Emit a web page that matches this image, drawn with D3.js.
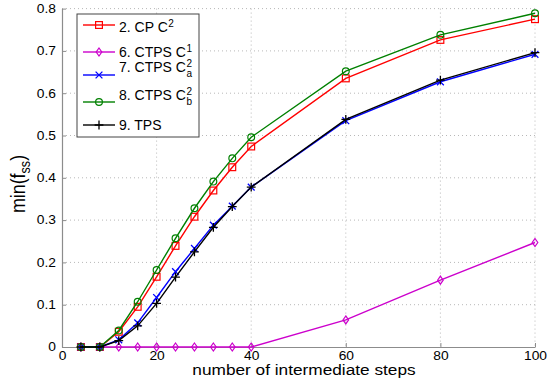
<!DOCTYPE html>
<html>
<head>
<meta charset="utf-8">
<script src="https://cdn.jsdelivr.net/npm/d3@7/dist/d3.min.js"></script>
<style>
  html, body { margin: 0; padding: 0; background: #fff; }
  svg { display: block; font-family: "Liberation Sans", Arial, Helvetica, sans-serif; }
</style>
</head>
<body>
<svg id="chart" width="548" height="386"></svg>
<script>
// number of intermediate steps
const steps = [4, 8, 12, 16, 20, 24, 28, 32, 36, 40, 60, 80, 100];

// min(f_ss) per method
const cpC2    = [0, 0, 0.036, 0.095, 0.166, 0.239, 0.308, 0.370, 0.425, 0.474, 0.635, 0.726, 0.775];
const ctpsC1  = [0, 0, 0, 0, 0, 0, 0, 0, 0, 0, 0.064, 0.158, 0.247];
const ctpsC2a = [0, 0, 0.017, 0.057, 0.117, 0.178, 0.233, 0.288, 0.333, 0.378, 0.535, 0.627, 0.692];
const ctpsC2b = [0, 0, 0.039, 0.107, 0.182, 0.257, 0.328, 0.391, 0.446, 0.496, 0.652, 0.738, 0.789];
const tps     = [0, 0, 0.015, 0.050, 0.103, 0.165, 0.225, 0.283, 0.332, 0.378, 0.538, 0.631, 0.696];

const xTicks = [0, 20, 40, 60, 80, 100];
const yTicks = [0, 0.1, 0.2, 0.3, 0.4, 0.5, 0.6, 0.7, 0.8];
const yTickLabels = ["0", "0.1", "0.2", "0.3", "0.4", "0.5", "0.6", "0.7", "0.8"];

const series = [
  { name: "2. CP C", sup: "2", sub: null, values: cpC2,    color: "#ff0000", marker: "square" },
  { name: "6. CTPS C", sup: "1", sub: null, values: ctpsC1,  color: "#cc00cc", marker: "diamond" },
  { name: "7. CTPS C", sup: "2", sub: "a", values: ctpsC2a, color: "#0000ff", marker: "x" },
  { name: "8. CTPS C", sup: "2", sub: "b", values: ctpsC2b, color: "#008000", marker: "circle" },
  { name: "9. TPS", sup: null, sub: null, values: tps,     color: "#000000", marker: "plus" }
];

const svg = d3.select("#chart");
const plotLeft = 62, plotRight = 535, plotTop = 8.6, plotBottom = 347;

const x = d3.scaleLinear().domain([0, 100]).range([plotLeft, plotRight]);
const y = d3.scaleLinear().domain([0, 0.8]).range([plotBottom, plotTop]);

const tickStretch = 1.15;
const axisColor = "#8c8c8c";

// dotted grid
const grid = svg.append("g");
grid.selectAll("line.gx").data(xTicks.filter(d => d > 0)).join("line")
  .attr("x1", d => x(d)).attr("x2", d => x(d))
  .attr("y1", y(0.8)).attr("y2", y(0))
  .attr("stroke", "#b8b8b8").attr("stroke-width", 1).attr("stroke-dasharray", "1,3");
grid.selectAll("line.gy").data(yTicks.filter(d => d > 0)).join("line")
  .attr("y1", d => y(d)).attr("y2", d => y(d))
  .attr("x1", x(0)).attr("x2", x(100))
  .attr("stroke", "#b8b8b8").attr("stroke-width", 1).attr("stroke-dasharray", "1,3");

// axes (ticks point inward)
const xAxis = d3.axisBottom(x).tickValues(xTicks).tickSizeInner(-4).tickSizeOuter(0).tickPadding(4)
  .tickFormat(d3.format("d"));
const gx = svg.append("g").attr("transform", `translate(0,${plotBottom})`).call(xAxis);
const yAxis = d3.axisLeft(y).tickValues(yTicks).tickSizeInner(-4).tickSizeOuter(0).tickPadding(6)
  .tickFormat((d, i) => yTickLabels[i]);
const gy = svg.append("g").attr("transform", `translate(${plotLeft},0)`).call(yAxis);

[gx, gy].forEach(g => {
  g.select(".domain").attr("stroke", axisColor).attr("stroke-width", 1.2);
  g.selectAll(".tick line").attr("stroke", axisColor);
  g.selectAll(".tick text").attr("fill", "#000").attr("font-size", 12)
    .attr("font-family", "Liberation Sans, Arial, sans-serif");
});
gx.selectAll(".tick text").attr("transform", `scale(${tickStretch},1)`);
gy.selectAll(".tick text").attr("transform", `scale(${tickStretch},1)`).attr("x", -6 / tickStretch);

// x axis label
svg.append("text")
  .attr("transform", `translate(304,375) scale(1.15,1)`)
  .attr("text-anchor", "middle").attr("font-size", 15)
  .text("number of intermediate steps");

// y axis label: min(f_ss)
const yl = svg.append("text")
  .attr("transform", "translate(25,184) rotate(-90) scale(1.05,1.15)")
  .attr("text-anchor", "middle").attr("font-size", 17);
yl.append("tspan").text("min(f");
yl.append("tspan").attr("font-size", 12).attr("dy", 4).text("ss");
yl.append("tspan").attr("dy", -4).text(")");

// marker drawing
function drawMarker(g, type, color) {
  const s = 3.4;
  if (type === "square") {
    g.append("rect").attr("x", -s).attr("y", -s).attr("width", 2 * s).attr("height", 2 * s)
      .attr("fill", "none").attr("stroke", color).attr("stroke-width", 1.2);
  } else if (type === "diamond") {
    g.append("path").attr("d", `M0,${-s - 0.6}L${s - 0.6},0L0,${s + 0.6}L${-s + 0.6},0Z`)
      .attr("fill", "none").attr("stroke", color).attr("stroke-width", 1.2);
  } else if (type === "circle") {
    g.append("circle").attr("r", s).attr("fill", "none").attr("stroke", color).attr("stroke-width", 1.2);
  } else if (type === "x") {
    g.append("path").attr("d", `M${-s},${-s}L${s},${s}M${-s},${s}L${s},${-s}`)
      .attr("stroke", color).attr("stroke-width", 1.3);
  } else if (type === "plus") {
    const p = s + 1;
    g.append("path").attr("d", `M${-p},0L${p},0M0,${-p}L0,${p}`)
      .attr("stroke", color).attr("stroke-width", 1.3);
  }
}

// series lines and markers
const line = d3.line().x((d, i) => x(steps[i])).y(d => y(d));
series.forEach(s => {
  const g = svg.append("g");
  g.append("path").datum(s.values).attr("d", line)
    .attr("fill", "none").attr("stroke", s.color).attr("stroke-width", 1.4);
  s.values.forEach((v, i) => {
    drawMarker(g.append("g").attr("transform", `translate(${x(steps[i])},${y(v)})`), s.marker, s.color);
  });
});

// legend
const legendRows = [25, 52, 75, 102, 125];
const legendBase = [32, 57, 72, 100, 130];
const lg = svg.append("g");
lg.append("rect").attr("x", 77).attr("y", 14).attr("width", 122).attr("height", 123)
  .attr("fill", "#fff").attr("stroke", "#444").attr("stroke-width", 1);
series.forEach((s, i) => {
  const ly = legendRows[i];
  lg.append("line").attr("x1", 83).attr("x2", 115).attr("y1", ly).attr("y2", ly)
    .attr("stroke", s.color).attr("stroke-width", 1.4);
  drawMarker(lg.append("g").attr("transform", `translate(99,${ly})`), s.marker, s.color);
  const t = lg.append("text").attr("x", 119).attr("y", legendBase[i])
    .attr("font-size", 14).text(s.name);
  const w = t.node().getComputedTextLength();
  if (s.sup) {
    lg.append("text").attr("x", 119 + w + 0.5).attr("y", legendBase[i] - 5.5)
      .attr("font-size", 10).text(s.sup);
  }
  if (s.sub) {
    lg.append("text").attr("x", 119 + w + 0.5).attr("y", legendBase[i] + 5)
      .attr("font-size", 10).text(s.sub);
  }
});
</script>
</body>
</html>
